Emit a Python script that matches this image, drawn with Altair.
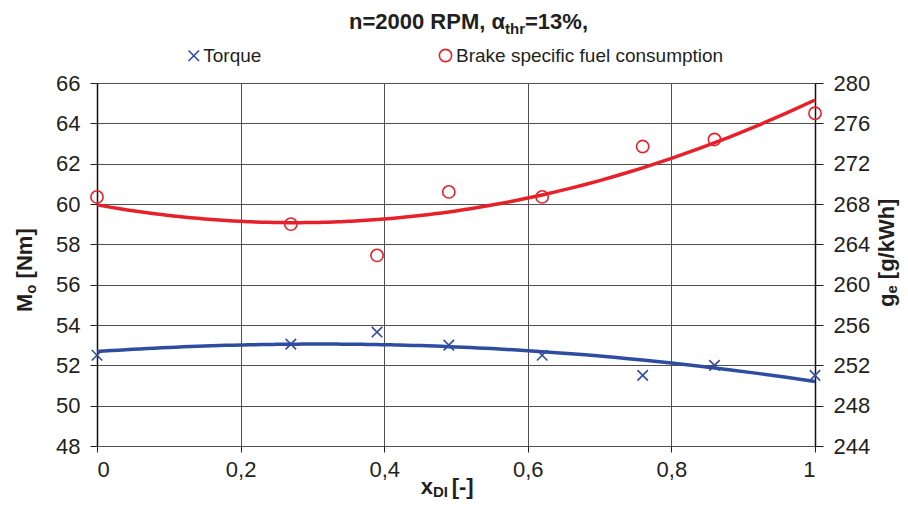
import altair as alt
import pandas as pd

# ---- data ----
x_dl = [0.0, 0.27, 0.39, 0.49, 0.62, 0.76, 0.86, 1.0]
torque = [52.5, 53.05, 53.65, 53.0, 52.5, 51.5, 52.0, 51.5]
bsfc = [268.7, 266.0, 262.9, 269.2, 268.7, 273.7, 274.4, 277.0]

x_ticks = [0, 0.2, 0.4, 0.6, 0.8, 1.0]
torque_ticks = [48, 50, 52, 54, 56, 58, 60, 62, 64, 66]
bsfc_ticks = [244, 248, 252, 256, 260, 264, 268, 272, 276, 280]

df = pd.DataFrame({"x": x_dl, "torque": torque, "bsfc": bsfc})
one = pd.DataFrame({"k": [0]})

FONT = "Liberation Sans"
TXT = "#231F20"
W, H = 718, 363
BLUE = "#2F4DA0"
RED = "#E8202A"
GRID = "#505050"
CROSS = "M-1,-1L1,1M-1,1L1,-1"

x_enc = alt.X(
    "x:Q",
    scale=alt.Scale(domain=[0, 1], nice=False, zero=False),
    axis=alt.Axis(
        values=x_ticks, title=None, grid=True, gridColor=GRID, gridWidth=1,
        domain=False, tickColor=TXT, tickSize=6, labelPadding=7,
        labelFont=FONT, labelFontSize=22, labelColor=TXT,
        labelExpr="datum.value == 0 ? '0' : datum.value == 1 ? '1' : replace(format(datum.value, '.1f'), '.', ',')",
    ),
)

y_left = alt.Y(
    "torque:Q",
    scale=alt.Scale(domain=[48, 66], nice=False, zero=False),
    axis=alt.Axis(
        values=torque_ticks, title=None, orient="left", grid=True,
        gridColor=GRID, gridWidth=1, domainColor="#111111", domainWidth=1.5,
        tickColor=TXT, tickSize=7, labelPadding=10, format="d",
        labelFont=FONT, labelFontSize=22, labelColor=TXT,
    ),
)

y_right = alt.Y(
    "bsfc:Q",
    scale=alt.Scale(domain=[244, 280], nice=False, zero=False),
    axis=alt.Axis(
        values=bsfc_ticks, title=None, orient="right", grid=False,
        domainColor="#111111", domainWidth=1.5,
        tickColor=TXT, tickSize=8, labelPadding=10, format="d",
        labelFont=FONT, labelFontSize=22, labelColor=TXT,
    ),
)

base = alt.Chart(df)

torque_line = base.transform_regression(
    "x", "torque", method="poly", order=2, extent=[0, 1]
).mark_line(color=BLUE, strokeWidth=3.5).encode(x=x_enc, y=y_left)

torque_pts = base.mark_point(
    shape=CROSS, size=110, strokeWidth=1.6, color=BLUE, filled=False, opacity=1
).encode(x=x_enc, y=y_left)

bsfc_line = base.transform_regression(
    "x", "bsfc", method="poly", order=2, extent=[0, 1]
).mark_line(color=RED, strokeWidth=3.5).encode(x=x_enc, y=y_right)

bsfc_pts = base.mark_point(
    shape="circle", size=150, strokeWidth=1.6, color=RED, filled=False, opacity=1
).encode(x=x_enc, y=y_right)


def txt(text, x, y, size, bold=False, angle=0, align="left", baseline="alphabetic"):
    return alt.Chart(one).mark_text(
        text=text, font=FONT, fontSize=size, fontWeight="bold" if bold else "normal",
        angle=angle, align=align, baseline=baseline, color=TXT,
    ).encode(x=alt.value(x), y=alt.value(y))


# title: n=2000 RPM, α_thr=13%,
title_parts = [
    txt("n=2000 RPM, \u03b1", 408, -53.7, 22, True, align="right"),
    txt("thr", 408, -49.5, 15, True),
    txt("=13%,", 428, -53.7, 22, True),
]

# legend
legend_parts = [
    alt.Chart(one).mark_point(shape=CROSS, size=110, strokeWidth=1.6, color=BLUE,
                              filled=False, opacity=1).encode(x=alt.value(96.8), y=alt.value(-27.2)),
    txt("Torque", 106.3, -21.3, 19),
    alt.Chart(one).mark_point(shape="circle", size=150, strokeWidth=1.6, color=RED,
                              filled=False, opacity=1).encode(x=alt.value(348.5), y=alt.value(-27.5)),
    txt("Brake specific fuel consumption", 359, -21.3, 19),
]

# x axis title: x_DI [-]
xtitle_parts = [
    txt("x", 323.7, 410.5, 22, True),
    txt("DI", 336, 413.5, 15, True),
    txt("[-]", 354.7, 410.5, 22, True),
]

# left axis title: M_o [Nm]  (rotated)
ltitle_parts = [
    txt("M", -65.3, 229, 22, True, angle=270),
    txt("o", -61.3, 210.7, 15, True, angle=270),
    txt("[Nm]", -65.3, 195.4, 22, True, angle=270),
]

# right axis title: g_e [g/kWh]  (rotated)
rtitle_parts = [
    txt("g", 796.5, 224, 22, True, angle=270),
    txt("e", 800, 210.6, 15, True, angle=270),
    txt("[g/kWh]", 796.5, 196.2, 22, True, angle=270),
]

left = alt.layer(torque_line, torque_pts, *title_parts, *legend_parts,
                 *xtitle_parts, *ltitle_parts, *rtitle_parts)
right = alt.layer(bsfc_line, bsfc_pts)

chart = alt.layer(left, right).resolve_scale(y="independent").properties(
    width=W, height=H,
    autosize=alt.AutoSizeParams(type="none"),
    padding={"left": 89, "top": 75, "right": 85, "bottom": 54},
    background="white",
).configure_view(stroke=None)

chart.save("out.html", embed_options={"renderer": "svg", "actions": False})
